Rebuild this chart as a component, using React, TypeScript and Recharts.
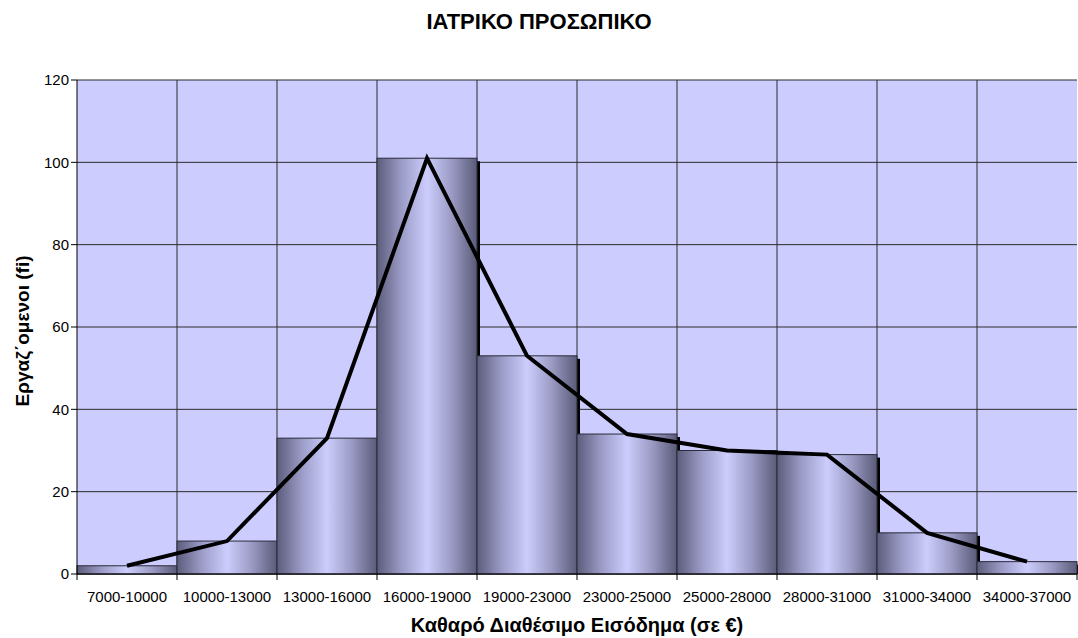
import React from "react";
import {
  ComposedChart,
  Bar,
  Line,
  XAxis,
  YAxis,
  CartesianGrid,
} from "recharts";

const ranges = [
  "7000-10000",
  "10000-13000",
  "13000-16000",
  "16000-19000",
  "19000-23000",
  "23000-25000",
  "25000-28000",
  "28000-31000",
  "31000-34000",
  "34000-37000",
];
const employees = [2, 8, 33, 101, 53, 34, 30, 29, 10, 3];
const yTicks = [0, 20, 40, 60, 80, 100, 120];

const data = ranges.map((range, i) => ({ range, fi: employees[i] }));

const W = 1078;
const H = 638;
const MARGIN = { top: 80, right: 1, bottom: 0, left: 0 };
const Y_AXIS_W = 77;
const X_AXIS_H = 64;
const PLOT_W = W - MARGIN.left - MARGIN.right - Y_AXIS_W;
const BAND = PLOT_W / ranges.length;
const PLOT_BOTTOM = H - MARGIN.bottom - X_AXIS_H;
const FONT = "'Liberation Sans', Arial, sans-serif";

function CylinderBar(props: any) {
  const { x, y, width, height } = props;
  if (!height || height <= 0) return null;
  return (
    <g>
      <rect x={x + 3} y={y + 3} width={width} height={Math.max(height - 3, 0)} fill="#000" />
      <rect x={x} y={y} width={width} height={height} fill="url(#cyl)" stroke="#2b2b3a" strokeWidth={1} />
    </g>
  );
}

function RangeTick(props: any) {
  const { x, payload, index } = props;
  const left = x - BAND / 2;
  return (
    <g>
      <line x1={left} y1={PLOT_BOTTOM} x2={left} y2={PLOT_BOTTOM + 6} stroke="#000" />
      {index === ranges.length - 1 && (
        <line x1={left + BAND} y1={PLOT_BOTTOM} x2={left + BAND} y2={PLOT_BOTTOM + 6} stroke="#000" />
      )}
      <text x={x} y={PLOT_BOTTOM + 28} textAnchor="middle" fontSize={15} fontFamily={FONT} fill="#000">
        {payload.value}
      </text>
    </g>
  );
}

export default function App() {
  return (
    <div style={{ position: "absolute", left: 0, top: 0, width: W, height: H, background: "#fff" }}>
      <div
        style={{
          position: "absolute",
          left: 0,
          top: 10,
          width: W,
          textAlign: "center",
          fontFamily: FONT,
          fontWeight: "bold",
          fontSize: 22,
          lineHeight: "24px",
        }}
      >
        ΙΑΤΡΙΚΟ ΠΡΟΣΩΠΙΚΟ
      </div>
      <ComposedChart
        width={W}
        height={H}
        data={data}
        margin={MARGIN}
        barCategoryGap={0}
        barGap={0}
      >
        <defs>
          <linearGradient id="cyl" x1="0" y1="0" x2="1" y2="0">
            <stop offset="0%" stopColor="#5c5c7c" />
            <stop offset="25%" stopColor="#9c9cc8" />
            <stop offset="50%" stopColor="#cdcdfd" />
            <stop offset="75%" stopColor="#9a9ac4" />
            <stop offset="100%" stopColor="#5a5a78" />
          </linearGradient>
        </defs>
        <CartesianGrid
          fill="#ccccff"
          stroke="#2a2a2a"
          verticalCoordinatesGenerator={({ offset }: any) =>
            ranges.slice(1).map((_, i) => offset.left + ((i + 1) * offset.width) / ranges.length)
          }
        />
        <XAxis
          dataKey="range"
          height={X_AXIS_H}
          tickLine={false}
          axisLine={{ stroke: "#000" }}
          interval={0}
          tick={<RangeTick />}
          label={{
            content: ({ viewBox }: any) => (
              <text
                x={viewBox.x + viewBox.width / 2}
                y={viewBox.y + 58}
                textAnchor="middle"
                fontFamily={FONT}
                fontWeight="bold"
                fontSize={20}
                fill="#000"
              >
                Καθαρό Διαθέσιμο Εισόδημα (σε €)
              </text>
            ),
          }}
        />
        <YAxis
          width={Y_AXIS_W}
          domain={[0, 120]}
          ticks={yTicks}
          interval={0}
          tickSize={6}
          tickLine={{ stroke: "#000" }}
          axisLine={{ stroke: "#000" }}
          tick={{ fill: "#000", fontSize: 15, fontFamily: FONT }}
          label={{
            content: ({ viewBox }: any) => {
              const cx = 22;
              const cy = viewBox.y + viewBox.height / 2 + 4;
              return (
                <text
                  x={cx}
                  y={cy}
                  transform={`rotate(-90 ${cx} ${cy})`}
                  textAnchor="middle"
                  dominantBaseline="central"
                  fontFamily={FONT}
                  fontWeight="bold"
                  fontSize={19}
                  fill="#000"
                >
                  Εργαζ΄ομενοι (fi)
                </text>
              );
            },
          }}
        />
        <Bar dataKey="fi" shape={<CylinderBar />} isAnimationActive={false} />
        <Line
          type="linear"
          dataKey="fi"
          stroke="#000"
          strokeWidth={4}
          dot={false}
          activeDot={false}
          isAnimationActive={false}
        />
      </ComposedChart>
    </div>
  );
}
